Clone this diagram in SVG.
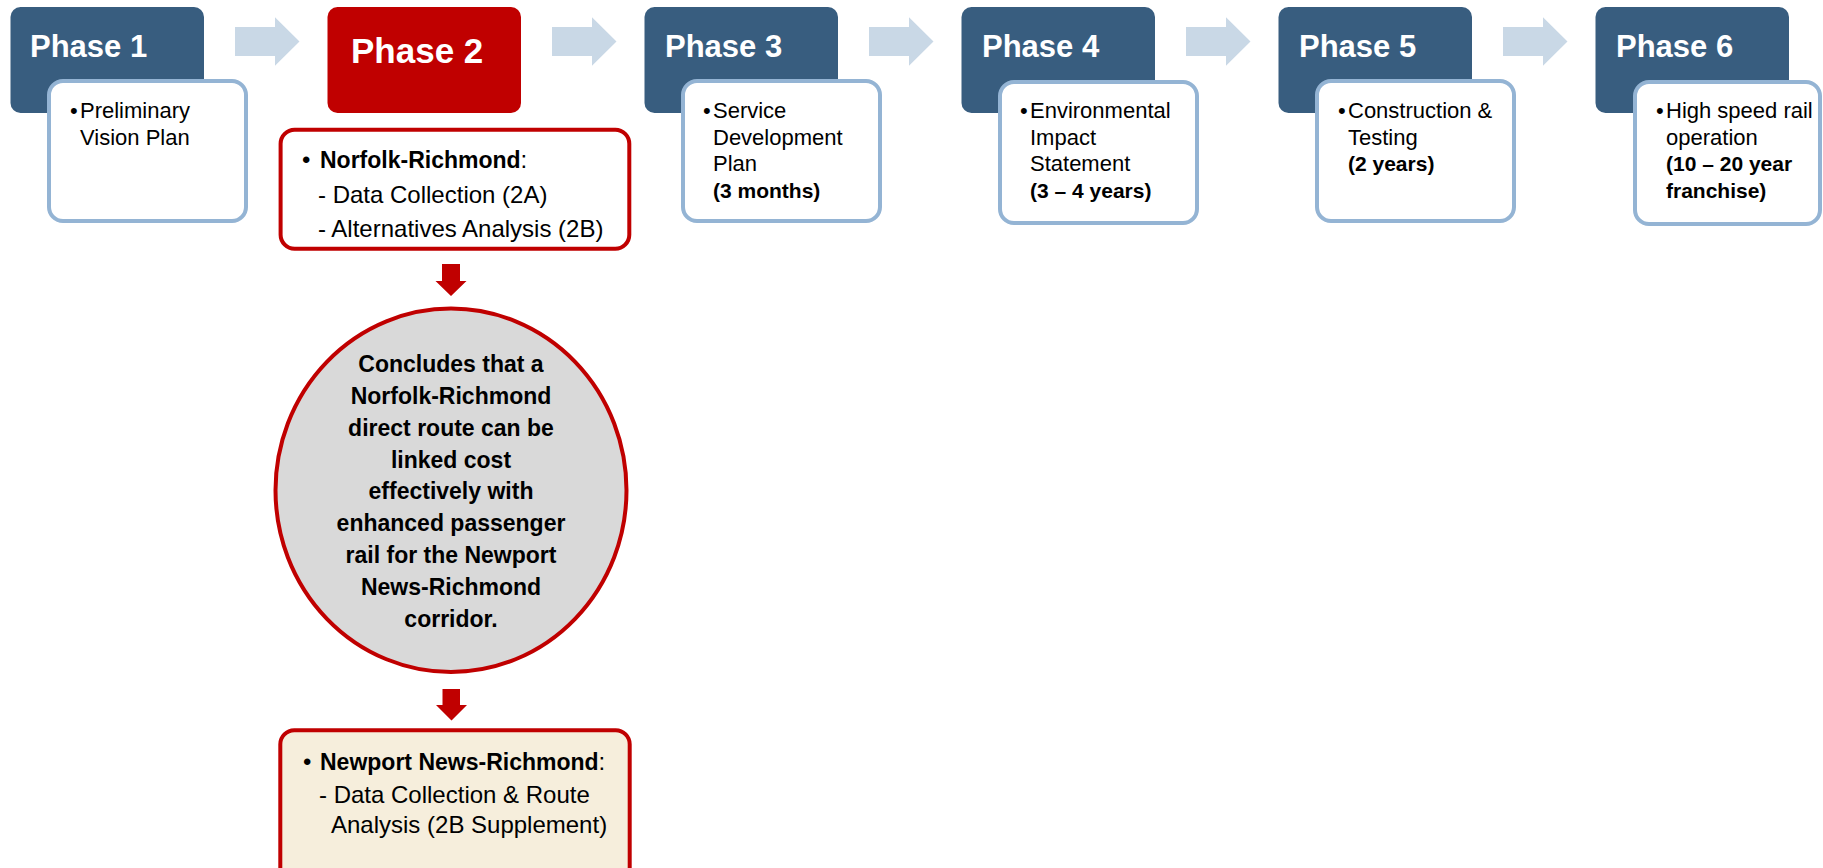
<svg xmlns="http://www.w3.org/2000/svg" width="1823" height="868" viewBox="0 0 1823 868">
<defs>
<style>
.ph{fill:#385D7F}
.phr{fill:#C00000}
.wb{fill:#FFFFFF;stroke:#94B4D4;stroke-width:4}
.rb{fill:#FFFFFF;stroke:#C00000;stroke-width:4}
.cb{fill:#F6EEDC;stroke:#C00000;stroke-width:4}
.circ{fill:#D9D9D9;stroke:#C00000;stroke-width:4}
.la{fill:#C9D8E6}
.ra{fill:#C00000}
.pt{font-family:"Liberation Sans",Arial,sans-serif;font-weight:bold;font-size:31px;fill:#FFFFFF}
.pt2{font-family:"Liberation Sans",Arial,sans-serif;font-weight:bold;font-size:35px;fill:#FFFFFF}
.t{font-family:"Liberation Sans",Arial,sans-serif;font-size:22px;fill:#000000}
.tb{font-family:"Liberation Sans",Arial,sans-serif;font-size:21px;font-weight:bold;fill:#000000}
.t2{font-family:"Liberation Sans",Arial,sans-serif;font-size:24px;fill:#000000}
.t2b{font-family:"Liberation Sans",Arial,sans-serif;font-size:23px;font-weight:bold;fill:#000000}
.ct{font-family:"Liberation Sans",Arial,sans-serif;font-size:23px;font-weight:bold;fill:#000000;text-anchor:middle}
</style>
</defs>
<rect width="1823" height="868" fill="#FFFFFF"/>

<g id="connectors">
<polygon class="la" points="235,27 275,27 275,17.3 299.5,41.5 275,65.7 275,56 235,56"/>
<polygon class="la" points="552,27 592,27 592,17.3 616.5,41.5 592,65.7 592,56 552,56"/>
<polygon class="la" points="869,27 909,27 909,17.3 933.5,41.5 909,65.7 909,56 869,56"/>
<polygon class="la" points="1186,27 1226,27 1226,17.3 1250.5,41.5 1226,65.7 1226,56 1186,56"/>
<polygon class="la" points="1503,27 1543,27 1543,17.3 1567.5,41.5 1543,65.7 1543,56 1503,56"/>
<polygon class="ra" points="442,264 460,264 460,281 466.5,281 451,296 435.5,281 442,281"/>
<polygon class="ra" points="442.5,689 460,689 460,705 467,705 451.5,720.5 436,705 442.5,705"/>
</g>

<g id="phase1">
<rect class="ph" x="10.5" y="7" width="193.5" height="106" rx="10"/>
<text class="pt" x="30" y="57">Phase 1</text>
<rect class="wb" x="49" y="81" width="197" height="140" rx="14"/>
<text class="t" x="70" y="118">•</text>
<text class="t" x="80" y="118">Preliminary</text>
<text class="t" x="80" y="144.5">Vision Plan</text>
</g>

<g id="phase2">
<rect class="phr" x="327.5" y="7" width="193.5" height="106" rx="10"/>
<text class="pt2" x="351" y="63">Phase 2</text>
</g>

<g id="phase2-detail">
<rect class="rb" x="280.6" y="129.7" width="348.7" height="119" rx="14"/>
<text class="t2" x="302" y="168">•</text>
<text x="320" y="168"><tspan class="t2b">Norfolk-Richmond</tspan><tspan class="t2">:</tspan></text>
<text class="t2" x="318" y="203">- Data Collection (2A)</text>
<text class="t2" x="318" y="237">- Alternatives Analysis (2B)</text>
</g>

<g id="conclusion">
<ellipse class="circ" cx="451" cy="490.3" rx="175.5" ry="181.7"/>
<text class="ct" x="451" y="372">Concludes that a</text>
<text class="ct" x="451" y="403.8">Norfolk-Richmond</text>
<text class="ct" x="451" y="435.7">direct route can be</text>
<text class="ct" x="451" y="467.5">linked cost</text>
<text class="ct" x="451" y="499.4">effectively with</text>
<text class="ct" x="451" y="531.2">enhanced passenger</text>
<text class="ct" x="451" y="563.1">rail for the Newport</text>
<text class="ct" x="451" y="595">News-Richmond</text>
<text class="ct" x="451" y="626.8">corridor.</text>
</g>

<g id="supplement">
<rect class="cb" x="280.3" y="730.3" width="349.4" height="170" rx="14"/>
<text class="t2" x="303" y="770">•</text>
<text x="320" y="770"><tspan class="t2b">Newport News-Richmond</tspan><tspan class="t2">:</tspan></text>
<text class="t2" x="319" y="803">- Data Collection &amp; Route</text>
<text class="t2" x="331" y="833">Analysis (2B Supplement)</text>
</g>

<g id="phase3">
<rect class="ph" x="644.5" y="7" width="193.5" height="106" rx="10"/>
<text class="pt" x="665" y="57">Phase 3</text>
<rect class="wb" x="683" y="81" width="197" height="140" rx="14"/>
<text class="t" x="703" y="118">•</text>
<text class="t" x="713" y="118">Service</text>
<text class="t" x="713" y="144.5">Development</text>
<text class="t" x="713" y="171">Plan</text>
<text class="tb" x="713" y="197.5">(3 months)</text>
</g>

<g id="phase4">
<rect class="ph" x="961.5" y="7" width="193.5" height="106" rx="10"/>
<text class="pt" x="982" y="57">Phase 4</text>
<rect class="wb" x="1000" y="82" width="197" height="141" rx="14"/>
<text class="t" x="1020" y="118">•</text>
<text class="t" x="1030" y="118">Environmental</text>
<text class="t" x="1030" y="144.5">Impact</text>
<text class="t" x="1030" y="171">Statement</text>
<text class="tb" x="1030" y="197.5">(3 – 4 years)</text>
</g>

<g id="phase5">
<rect class="ph" x="1278.5" y="7" width="193.5" height="106" rx="10"/>
<text class="pt" x="1299" y="57">Phase 5</text>
<rect class="wb" x="1317" y="81" width="197" height="140" rx="14"/>
<text class="t" x="1338" y="118">•</text>
<text class="t" x="1348" y="118">Construction &amp;</text>
<text class="t" x="1348" y="144.5">Testing</text>
<text class="tb" x="1348" y="171">(2 years)</text>
</g>

<g id="phase6">
<rect class="ph" x="1595.5" y="7" width="193.5" height="106" rx="10"/>
<text class="pt" x="1616" y="57">Phase 6</text>
<rect class="wb" x="1635" y="82" width="185" height="142" rx="14"/>
<text class="t" x="1656" y="118">•</text>
<text class="t" x="1666" y="118">High speed rail</text>
<text class="t" x="1666" y="144.5">operation</text>
<text class="tb" x="1666" y="171">(10 – 20 year</text>
<text class="tb" x="1666" y="197.5">franchise)</text>
</g>
</svg>
